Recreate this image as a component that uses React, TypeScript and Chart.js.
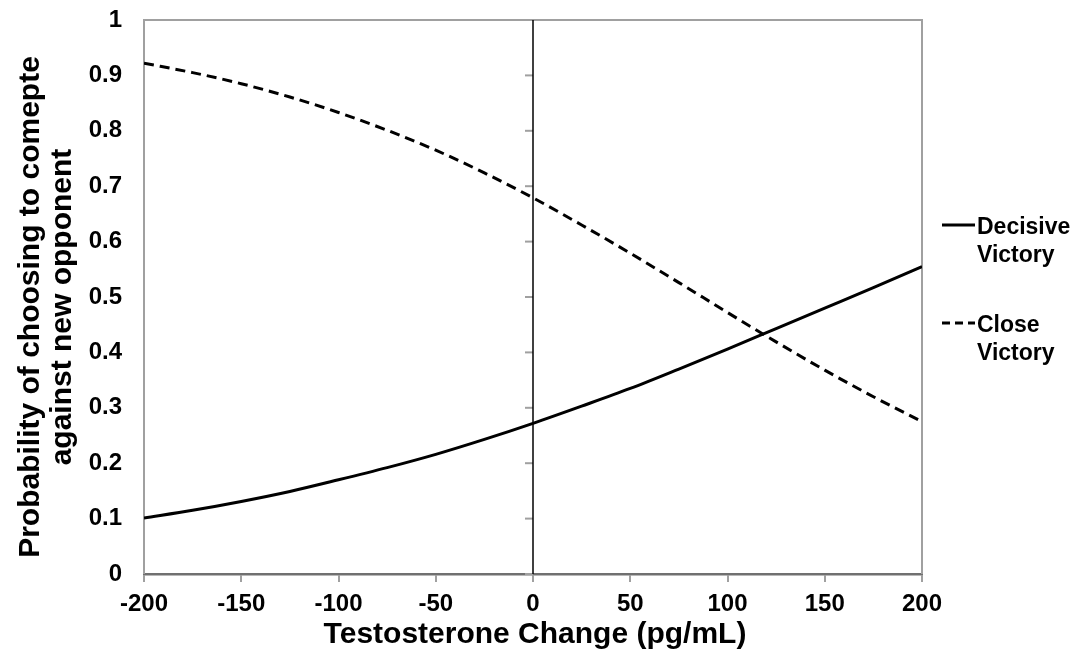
import React, { useEffect, useRef } from "react";
import { Chart, registerables } from "chart.js";

Chart.register(...registerables);

const xValues = [-200, -175, -150, -125, -100, -75, -50, -25, 0, 25, 50, 75, 100, 125, 150, 175, 200];
const decisiveVictory = [0.101, 0.115, 0.131, 0.149, 0.17, 0.192, 0.216, 0.243, 0.272, 0.303, 0.335, 0.37, 0.406, 0.443, 0.48, 0.517, 0.555];
const closeVictory = [0.922, 0.905, 0.885, 0.861, 0.833, 0.801, 0.765, 0.724, 0.679, 0.63, 0.579, 0.526, 0.472, 0.419, 0.368, 0.32, 0.275];
const xTickValues = [-200, -150, -100, -50, 0, 50, 100, 150, 200];
const yTickValues = [0, 0.1, 0.2, 0.3, 0.4, 0.5, 0.6, 0.7, 0.8, 0.9, 1];
const seriesNames = [["Decisive", "Victory"], ["Close", "Victory"]];
const xTitle = "Testosterone Change (pg/mL)";
const yTitleLines = ["Probability of choosing to comepte", "against new opponent"];

const FAMILY = "'Liberation Sans', Arial, Helvetica, sans-serif";

const decorPlugin = {
  id: "decor",
  beforeDatasetsDraw(chart: any) {
    const { ctx, chartArea, scales } = chart;
    const { left, right, top, bottom } = chartArea;
    ctx.save();
    ctx.strokeStyle = "#a0a0a0";
    ctx.lineWidth = 2;
    ctx.beginPath();
    ctx.moveTo(left, bottom);
    ctx.lineTo(left, top);
    ctx.lineTo(right, top);
    ctx.lineTo(right, bottom);
    ctx.stroke();
    const x0 = scales.x.getPixelForValue(0);
    ctx.strokeStyle = "#a0a0a0";
    ctx.lineWidth = 2;
    yTickValues.forEach((v) => {
      const py = scales.y.getPixelForValue(v);
      ctx.beginPath();
      ctx.moveTo(x0 - 8, py);
      ctx.lineTo(x0, py);
      ctx.stroke();
    });
    ctx.strokeStyle = "#000";
    ctx.lineWidth = 1.5;
    ctx.beginPath();
    ctx.moveTo(x0, top);
    ctx.lineTo(x0, bottom);
    ctx.stroke();
    ctx.restore();
  },
  afterDraw(chart: any) {
    const { ctx, chartArea } = chart;
    const { left, right } = chartArea;
    ctx.save();
    ctx.fillStyle = "#000";
    // legend
    ctx.font = `bold 23px ${FAMILY}`;
    ctx.textAlign = "left";
    ctx.textBaseline = "middle";
    const lx = right + 20;
    const entries = [
      { y: 225, dash: [] as number[] },
      { y: 323, dash: [8, 5] },
    ];
    entries.forEach((e, i) => {
      ctx.strokeStyle = "#000";
      ctx.lineWidth = 3;
      ctx.setLineDash(e.dash);
      ctx.beginPath();
      ctx.moveTo(lx, e.y);
      ctx.lineTo(lx + 33, e.y);
      ctx.stroke();
      ctx.setLineDash([]);
      ctx.fillText(seriesNames[i][0], lx + 35, e.y + 3);
      ctx.fillText(seriesNames[i][1], lx + 35, e.y + 31);
    });
    // x title
    ctx.font = `bold 30px ${FAMILY}`;
    ctx.textAlign = "center";
    ctx.fillText(xTitle, (left + right) / 2 + 2, 635);
    // y title
    ctx.translate(0, 307);
    ctx.rotate(-Math.PI / 2);
    ctx.fillText(yTitleLines[0], 0, 31);
    ctx.fillText(yTitleLines[1], 0, 63);
    ctx.restore();
  },
};

export default function App() {
  const ref = useRef<HTMLCanvasElement | null>(null);
  useEffect(() => {
    if (!ref.current) return;
    const tickFont = { family: FAMILY, size: 24, weight: "bold" as const };
    const chart = new Chart(ref.current, {
      type: "line",
      data: {
        datasets: [
          {
            label: seriesNames[0].join(" "),
            data: xValues.map((x, i) => ({ x, y: decisiveVictory[i] })),
            borderColor: "#000",
            borderWidth: 3,
            pointRadius: 0,
            cubicInterpolationMode: "monotone",
            fill: false,
          },
          {
            label: seriesNames[1].join(" "),
            data: xValues.map((x, i) => ({ x, y: closeVictory[i] })),
            borderColor: "#000",
            borderWidth: 3,
            borderDash: [10, 6],
            pointRadius: 0,
            cubicInterpolationMode: "monotone",
            fill: false,
          },
        ],
      },
      options: {
        animation: false,
        responsive: false,
        devicePixelRatio: 1,
        layout: { padding: { left: 0, top: 20, right: 153, bottom: 0 } },
        plugins: { legend: { display: false }, tooltip: { enabled: false } },
        scales: {
          x: {
            type: "linear",
            min: -200,
            max: 200,
            afterFit: (s: any) => {
              s.height = 77;
              s.paddingLeft = 0;
              s.paddingRight = 0;
            },
            afterBuildTicks: (s: any) => {
              s.ticks = xTickValues.map((v) => ({ value: v }));
            },
            ticks: {
              font: tickFont,
              color: "#000",
              padding: 8,
              autoSkip: false,
              maxRotation: 0,
              callback: (v: any) => String(v),
            },
            grid: {
              display: true,
              drawOnChartArea: false,
              drawTicks: true,
              tickLength: 8,
              color: "#a0a0a0",
              lineWidth: 2,
            },
            border: { display: true, color: "#707070", width: 2.5 },
          },
          y: {
            type: "linear",
            min: 0,
            max: 1,
            afterFit: (s: any) => {
              s.width = 144;
              s.paddingTop = 0;
              s.paddingBottom = 0;
            },
            afterBuildTicks: (s: any) => {
              s.ticks = yTickValues.map((v) => ({ value: v }));
            },
            ticks: {
              font: tickFont,
              color: "#000",
              padding: 22,
              autoSkip: false,
              callback: (v: any) => String(Math.round(Number(v) * 10) / 10),
            },
            grid: { display: false, drawTicks: false },
            border: { display: false },
          },
        },
      },
      plugins: [decorPlugin],
    });
    return () => chart.destroy();
  }, []);
  return (
    <div style={{ position: "fixed", left: 0, top: 0, width: 1075, height: 651, background: "#fff" }}>
      <canvas ref={ref} width={1075} height={651} />
    </div>
  );
}
